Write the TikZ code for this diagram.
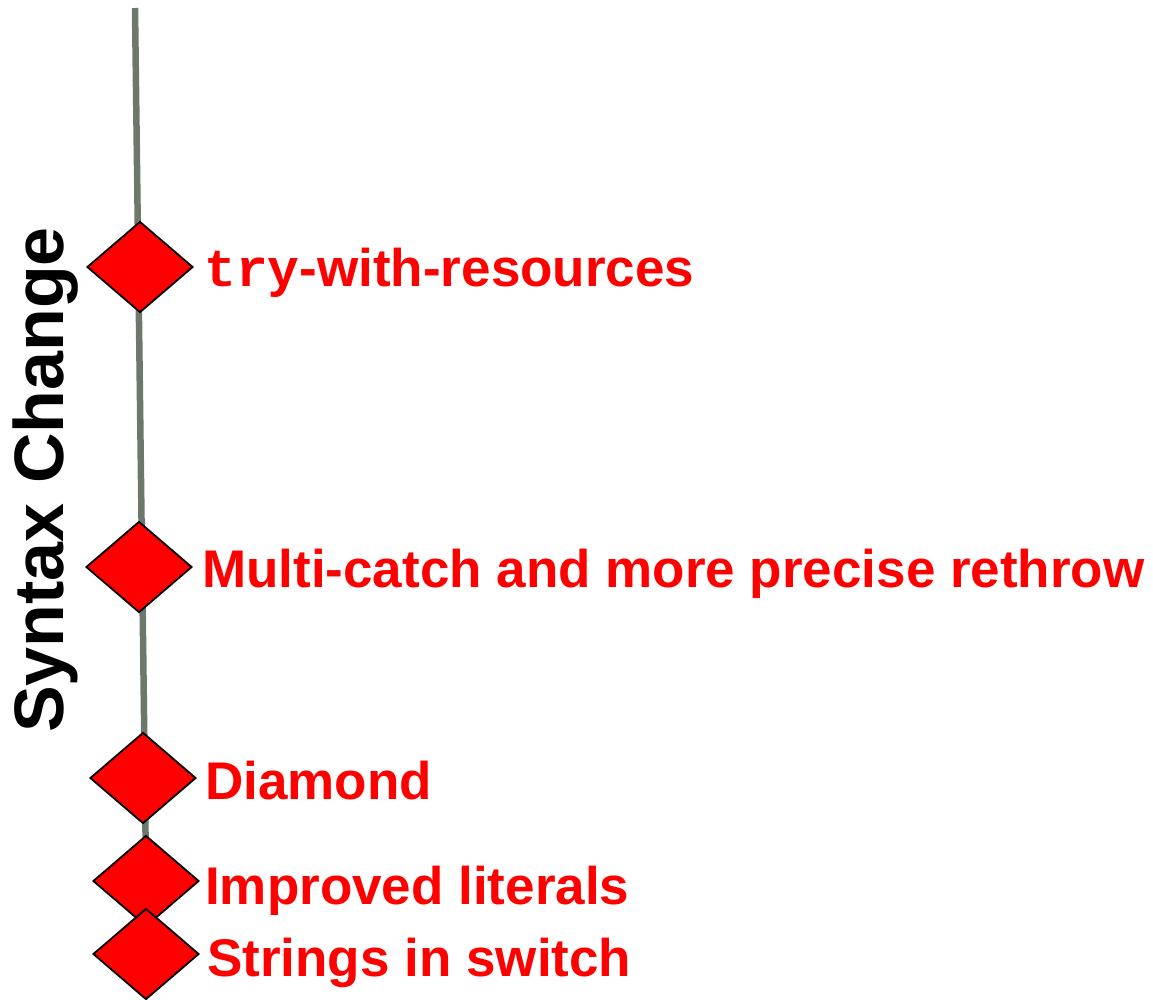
\documentclass[tikz,border=0pt]{standalone}
\usepackage{fontspec}
\setmainfont{Liberation Sans}
\newfontfamily\monobold{Liberation Mono}
\usetikzlibrary{shapes.geometric}
\definecolor{linegray}{RGB}{108,120,108}
\definecolor{labelred}{RGB}{255,0,0}
\tikzset{
  milestone/.style={diamond, draw=black, line width=1.8pt, fill=red, inner sep=0pt,
    minimum width=106pt, minimum height=91pt},
  label/.style={anchor=base west, inner sep=0pt, text=labelred, font=\fontsize{53}{63}\selectfont\bfseries},
  axis/.style={draw=linegray, line width=6.5pt},
}
\begin{document}
\begin{tikzpicture}[x=1pt,y=-1pt]
\useasboundingbox (0,0) rectangle (1153,999);
\coordinate (top) at (135,8);
\coordinate (bot) at (147,950);
\draw[axis] (top) -- (bot);
\node[milestone] (d1) at (140,267) {};
\node[milestone] (d2) at (139,567) {};
\node[milestone] (d3) at (143,778) {};
\node[milestone] (d4) at (146,881) {};
\node[milestone] (d5) at (146,954) {};
\node[label] (t1) at (204,286) {{\monobold try}-with-resources};
\node[label] (t2) at (202,587) {Multi-catch and more precise rethrow};
\node[label] (t3) at (205,799) {Diamond};
\node[label] (t4) at (205,904) {Improved literals};
\node[label] (t5) at (207,976) {Strings in switch};
\node[rotate=90, anchor=base, inner sep=0pt, font=\fontsize{70}{84}\selectfont\bfseries] (title) at (63,480) {Syntax Change};
\end{tikzpicture}
\end{document}
